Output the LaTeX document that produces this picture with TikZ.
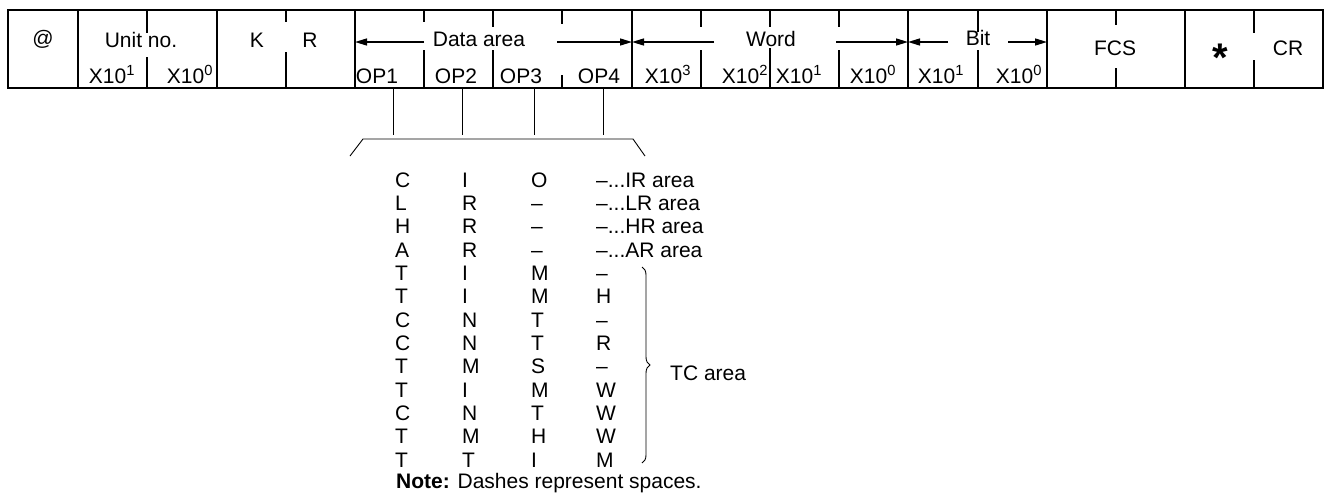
\documentclass[tikz,border=0pt]{standalone}
\usepackage{fontspec}
\setmainfont{Liberation Sans}
\usetikzlibrary{arrows.meta,decorations.pathreplacing}
\begin{document}
\begin{tikzpicture}[x=1pt,y=-1pt,
  txt/.style={inner sep=0pt, anchor=base, font=\fontsize{21}{23}\selectfont},
  ltxt/.style={txt, anchor=base west},
  border/.style={line width=1.5pt},
  tick/.style={line width=1.5pt},
  arr/.style={line width=1.4pt, -{Triangle[length=12pt,width=7pt]}},
  thinline/.style={line width=0.9pt}]
\useasboundingbox (0,0) rectangle (1326,493);
% frame
\draw[border] (8,10) rectangle (1323,88);
\foreach \x in {78,217,355,632,908,1047,1185} \draw[border] (\x,10) -- (\x,88);
\foreach \x/\a/\b in {147/33/57, 286/22/52, 424/22/50, 493/27/50, 562/24/75,
  701/27/50, 770/27/48, 839/27/50, 978/32/50, 1116/25/68, 1254/33/60}
  {\draw[tick] (\x,10) -- (\x,\a); \draw[tick] (\x,\b) -- (\x,88);}
% header texts
\node[txt] (at) at (43,45) {@};
\node[txt] (unit) at (141,47) {Unit no.};
\node[txt] (u1) at (112,83) {X10\textsuperscript{1}};
\node[txt] (u0) at (190,83) {X10\textsuperscript{0}};
\node[txt] (k) at (257,47) {K};
\node[txt] (r) at (310,47) {R};
\node[txt] (data) at (479,46) {Data area};
\node[txt] (op1) at (377,83) {OP1};
\node[txt] (op2) at (456,83) {OP2};
\node[txt] (op3) at (521,83) {OP3};
\node[txt] (op4) at (599,83) {OP4};
\node[txt] (word) at (771,46) {Word};
\node[txt] (w3) at (668,83) {X10\textsuperscript{3}};
\node[txt] (w2) at (745,83) {X10\textsuperscript{2}};
\node[txt] (w1) at (799,83) {X10\textsuperscript{1}};
\node[txt] (w0) at (873,83) {X10\textsuperscript{0}};
\node[txt] (bit) at (978,45) {Bit};
\node[txt] (b1) at (941,83) {X10\textsuperscript{1}};
\node[txt] (b0) at (1019,83) {X10\textsuperscript{0}};
\node[txt] (fcs) at (1115,55) {FCS};
\node[txt, font=\fontsize{40}{40}\selectfont\bfseries] (ast) at (1220,71) {*};
\node[txt] (cr) at (1288,55) {CR};
% arrows
\coordinate (dl) at (424,42); \coordinate (dL) at (355,42);
\coordinate (dr) at (557,42); \coordinate (dR) at (632,42);
\coordinate (wl) at (714,42); \coordinate (wr) at (836,42); \coordinate (wR) at (908,42);
\coordinate (bl) at (948,42); \coordinate (br) at (1008,42); \coordinate (bR) at (1047,42);
\draw[arr] (dl) -- (dL);
\draw[arr] (dr) -- (dR);
\draw[arr] (wl) -- (dR);
\draw[arr] (wr) -- (wR);
\draw[arr] (bl) -- (wR);
\draw[arr] (br) -- (bR);
% leader lines
\foreach \x [count=\i] in {393,462,534,603} {
  \coordinate (t\i) at (\x,89); \coordinate (s\i) at (\x,135);
  \draw[thinline] (t\i) -- (s\i);}
\coordinate (k1) at (350,156); \coordinate (k2) at (363,139);
\coordinate (k3) at (633,139); \coordinate (k4) at (645,156);
\draw[thinline] (k1) -- (k2) -- (k3) -- (k4);
% table of codes
\foreach \a/\b/\c/\d [count=\i from 0] in {
  C/I/O/{–...IR area}, L/R/–/{–...LR area}, H/R/–/{–...HR area}, A/R/–/{–...AR area},
  T/I/M/–, T/I/M/H, C/N/T/–, C/N/T/R, T/M/S/–, T/I/M/W, C/N/T/W, T/M/H/W, T/T/I/M} {
  \node[ltxt] (c\i a) at (395,{187+23.35*\i}) {\a};
  \node[ltxt] (c\i b) at (462,{187+23.35*\i}) {\b};
  \node[ltxt] (c\i c) at (531,{187+23.35*\i}) {\c};
  \node[ltxt] (c\i d) at (596,{187+23.35*\i}) {\d};
}
\coordinate (bt) at (642,267); \coordinate (bb) at (642,463);
\draw[thinline, decorate, decoration={brace, amplitude=8pt}] (bt) -- (bb);
\node[ltxt] (tc) at (670,380) {TC area};
\node[ltxt] (note) at (396,488) {\textbf{Note:} Dashes represent spaces.};
\end{tikzpicture}
\end{document}
